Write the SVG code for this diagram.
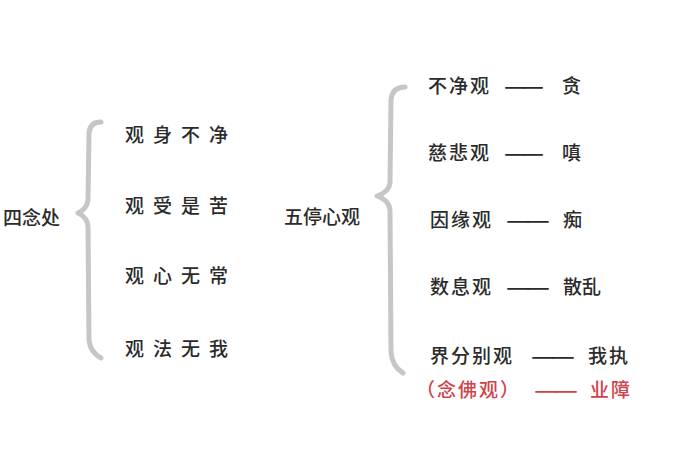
<svg xmlns="http://www.w3.org/2000/svg" width="700" height="470" viewBox="0 0 700 470">
<style>
text{font-family:"Noto Sans CJK SC","Noto Sans CJK JP",sans-serif;font-size:19px;font-weight:500;fill:#2b2b2b}
.item{letter-spacing:9px}
.r{letter-spacing:2px}
.d{font-weight:700}
.red{fill:#d0424a}
.brace{fill:none;stroke:#c6c6c6;stroke-width:5;stroke-linecap:round;stroke-linejoin:round}
</style>
<rect width="700" height="470" fill="#ffffff"/>
<g id="connectors">
<path class="brace" d="M101,122 Q90,122 89,133 L88,200 Q87,209 78,213 Q87,217 88,226 L89,340 Q90,352 101,358"/>
<path class="brace" d="M405,87 Q392,87 391,100 L390,183 Q389,192 377,196 Q389,200 390,210 L391,352 Q392,366 403,373"/>
</g>
<g id="n-sinianchu"><text x="3" y="225">四念处</text></g>
<g id="n-shen"><text class="item" x="125" y="142">观身不净</text></g>
<g id="n-shou"><text class="item" x="125" y="213">观受是苦</text></g>
<g id="n-xin"><text class="item" x="125" y="283">观心无常</text></g>
<g id="n-fa"><text class="item" x="125" y="356">观法无我</text></g>
<g id="n-wuting"><text x="284" y="224">五停心观</text></g>
<g id="n-bujing"><text class="r" x="428" y="93">不净观</text><text class="d" x="504" y="93" textLength="22" lengthAdjust="spacingAndGlyphs">—</text><text class="d" x="522" y="93" textLength="22" lengthAdjust="spacingAndGlyphs">—</text><text x="562" y="93">贪</text></g>
<g id="n-cibei"><text class="r" x="428" y="160">慈悲观</text><text class="d" x="504" y="160" textLength="22" lengthAdjust="spacingAndGlyphs">—</text><text class="d" x="522" y="160" textLength="22" lengthAdjust="spacingAndGlyphs">—</text><text x="562" y="160">嗔</text></g>
<g id="n-yinyuan"><text class="r" x="430" y="227">因缘观</text><text class="d" x="506" y="227" textLength="24" lengthAdjust="spacingAndGlyphs">—</text><text class="d" x="526" y="227" textLength="24" lengthAdjust="spacingAndGlyphs">—</text><text x="563" y="227">痴</text></g>
<g id="n-shuxi"><text class="r" x="430" y="294">数息观</text><text class="d" x="506" y="294" textLength="24" lengthAdjust="spacingAndGlyphs">—</text><text class="d" x="526" y="294" textLength="24" lengthAdjust="spacingAndGlyphs">—</text><text x="563" y="294">散乱</text></g>
<g id="n-jiefenbie"><text class="r" x="430" y="363">界分别观</text><text class="d" x="531" y="363" textLength="24" lengthAdjust="spacingAndGlyphs">—</text><text class="d" x="551" y="363" textLength="24" lengthAdjust="spacingAndGlyphs">—</text><text class="r" x="588" y="363">我执</text></g>
<g id="n-nianfo"><text class="red r" x="416" y="397">（念佛观）</text><text class="red d" x="534" y="397" textLength="24" lengthAdjust="spacingAndGlyphs">—</text><text class="red d" x="554" y="397" textLength="24" lengthAdjust="spacingAndGlyphs">—</text><text class="red r" x="590" y="397">业障</text></g>
</svg>
